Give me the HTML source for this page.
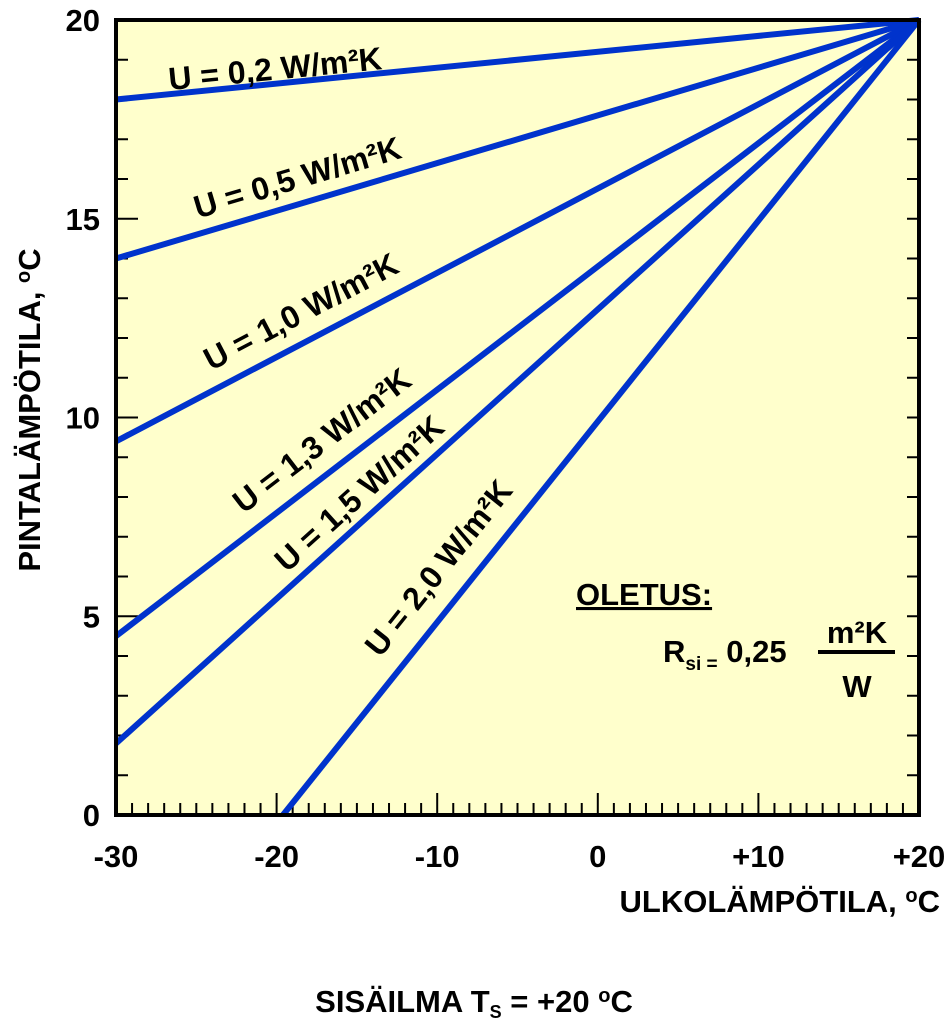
<!DOCTYPE html>
<html><head><meta charset="utf-8"><style>
body{margin:0;background:#fff;}
svg text{font-family:"Liberation Sans",Arial,sans-serif;font-weight:bold;fill:#000;}
</style></head><body>
<svg id="c" width="948" height="1025" viewBox="0 0 948 1025">
<rect x="116" y="20" width="803" height="795" fill="#ffffcc"/>
<g id="ticks"></g>
<g id="lines"></g>
<rect x="116" y="20" width="803" height="795" fill="none" stroke="#000" stroke-width="4"/>
<g id="labels"></g>
<text x="40" y="410" font-size="31" text-anchor="middle" transform="rotate(-90 40 410)">PINTALÄMPÖTILA, <tspan font-size="20" dy="-10">o</tspan><tspan dy="10">C</tspan></text>
<text x="940" y="912" font-size="31" text-anchor="end">ULKOLÄMPÖTILA, <tspan font-size="20" dy="-10">o</tspan><tspan dy="10">C</tspan></text>
<text x="474" y="1012" font-size="31" text-anchor="middle">SISÄILMA T<tspan font-size="18" dy="6">S</tspan><tspan dy="-6"> = +20 </tspan><tspan font-size="20" dy="-10">o</tspan><tspan dy="10">C</tspan></text>
<g>
<text x="576" y="605" font-size="31" text-decoration="underline">OLETUS:</text>
<text x="663" y="662" font-size="31">R<tspan font-size="19" dy="8">si =</tspan><tspan dy="-8"> 0,25</tspan></text>
<text x="857" y="643" font-size="31" text-anchor="middle">m²K</text>
<line x1="818" y1="652" x2="895" y2="652" stroke="#000" stroke-width="4"/>
<text x="857" y="697" font-size="31" text-anchor="middle">W</text>
</g>
</svg>
<script>
const uLabels=["U = 0,2","U = 0,5","U = 1,0","U = 1,3","U = 1,5","U = 2,0"];
const startTemps=[18.0,14.0,9.4,4.5,1.8,-5.25];
const xTicks=[-30,-20,-10,0,10,20];
const xTickLabels=["-30","-20","-10","0","+10","+20"];
const yTicks=[0,5,10,15,20];
const labelAt=[0.2,0.235,0.247,0.279,0.322,0.285];
const labelGap=[4,15,18,19,12,22];
const NS="http://www.w3.org/2000/svg";
const X=v=>116+(v+30)*803/50, Y=v=>815-v*795/20;
function mk(t,a,p){const e=document.createElementNS(NS,t);for(const k in a)e.setAttribute(k,a[k]);p.appendChild(e);return e;}
const tg=document.getElementById('ticks');
for(let v=-29;v<20;v++){const big=v%10===0;
 const e=mk('line',{x1:X(v),x2:X(v),y1:815,y2:815-(big?22:12),stroke:'#000','stroke-width':2},tg);
 
 }
for(let v=1;v<20;v++){const big=v%5===0;
 const e=mk('line',{x1:116,x2:116+(big?22:12),y1:Y(v),y2:Y(v),stroke:'#000','stroke-width':2},tg);
 
 
 const r=mk('line',{x1:919,x2:919-12,y1:Y(v),y2:Y(v),stroke:'#000','stroke-width':2},tg);
 
 }
xTicks.forEach((v,i)=>{const t=mk('text',{x:X(v),y:867,'font-size':31,'text-anchor':'middle'},tg);t.textContent=xTickLabels[i];
 
 });
yTicks.forEach(v=>{const t=mk('text',{x:100,y:Y(v)+11,'font-size':31,'text-anchor':'end'},tg);t.textContent=v;
 
 });
const lg=document.getElementById('lines'),lb=document.getElementById('labels');
startTemps.forEach((s,i)=>{
 let x0=-30,y0=s;
 if(s<0){x0=20-20*50/(20-s);y0=0;}
 const l=mk('line',{x1:X(x0),y1:Y(y0),x2:X(20),y2:Y(20),stroke:'#0033cc','stroke-width':6,'stroke-linecap':'butt'},lg);
 
 
 const px0=X(x0),py0=Y(y0),px1=X(20),py1=Y(20);
 const ang=Math.atan2(py1-py0,px1-px0);
 const f=labelAt[i];
 let cx=px0+(px1-px0)*f,cy=py0+(py1-py0)*f;
 cx+=Math.sin(ang)*labelGap[i];cy-=Math.cos(ang)*labelGap[i];
 const t=mk('text',{x:cx,y:cy,'font-size':32,'text-anchor':'middle',transform:`rotate(${ang*180/Math.PI} ${cx} ${cy})`},lb);
 t.textContent=uLabels[i]+' W/m²K';
 
 
});
</script>
</body></html>
